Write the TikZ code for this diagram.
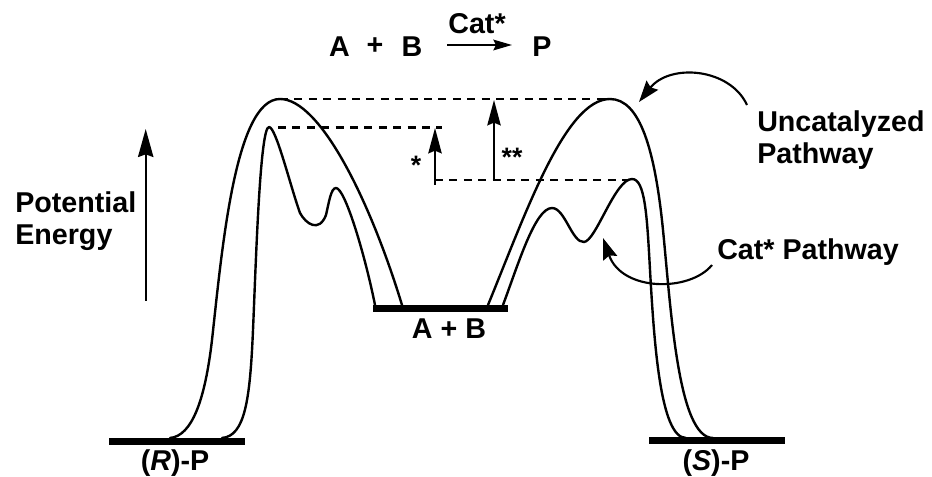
\documentclass[tikz,border=0pt]{standalone}
\usepackage{fontspec}
\setmainfont{Liberation Sans}
\usetikzlibrary{arrows.meta}
\begin{document}
\begin{tikzpicture}[x=0.75pt,y=-0.75pt,
  curve/.style={line width=1.8pt, line join=round, line cap=round},
  level/.style={line width=5.25pt},
  dashline/.style={line width=1.6pt, dash pattern=on 6pt off 4.8pt},
  big/.style={font=\fontsize{21.5}{24.5}\selectfont\bfseries, inner sep=0pt},
  star/.style={font=\fontsize{20}{22}\selectfont\bfseries, inner sep=0pt},
  uparrow/.style={line width=1.6pt, -{Stealth[length=19pt,width=10pt,inset=2pt]}},
  bendarrow/.style={line width=1.6pt, -{Stealth[length=16pt,width=11pt,inset=2pt]}}]
\useasboundingbox (0,0) rectangle (932,477);

% energy levels
\draw[level] (109,441.5) -- (245,441.5);
\draw[level] (373,308.5) -- (508,308.5);
\draw[level] (649,440.5) -- (785,440.5);

% uncatalyzed pathway
\draw[curve] (170,438) .. controls (192,436) and (205,400) .. (212,340)
  .. controls (222,250) and (235,99) .. (280,99)
  .. controls (320,99) and (370,200) .. (402,305);
\draw[curve] (488,305) .. controls (525,215) and (565,99) .. (610,99)
  .. controls (640,99) and (655,150) .. (663,230)
  .. controls (671,310) and (678,438) .. (713,438);

% catalyzed pathway
\draw[curve] (222,438) .. controls (245,436) and (250,400) .. (253,330)
  .. controls (256,260) and (260,127) .. (269,127)
  .. controls (276,127) and (290,185) .. (300,213)
  .. controls (306,224) and (319,233) .. (326,215)
  .. controls (329,202) and (331,188) .. (336,188)
  .. controls (345,188) and (365,255) .. (375,305);
\draw[curve] (503,305) .. controls (518,265) and (535,208) .. (552,208)
  .. controls (565,208) and (572,243) .. (584,242)
  .. controls (596,241) and (615,179) .. (632,179)
  .. controls (645,179) and (647,215) .. (650,270)
  .. controls (654,340) and (660,438) .. (686,438);

% dashed reference lines
\draw[dashline] (280,99) -- (610,99);
\draw[dashline] (278,127.5) -- (442,127.5);
\draw[dashline] (435,180) -- (627,180);

% barrier arrows
\coordinate (s1b) at (435,185);
\coordinate (s1t) at (435,128);
\coordinate (s2b) at (494,179);
\coordinate (s2t) at (494,100);
\draw[uparrow] (s1b) -- (s1t);
\draw[uparrow] (s2b) -- (s2t);
\node[star] (st1) at (416,165) {*};
\node[star] (st2) at (512,157) {**};

% potential energy axis
\coordinate (peb) at (145.7,301);
\coordinate (pet) at (145.7,129);
\draw[line width=1.6pt, -{Stealth[length=21pt,width=11.5pt,inset=2pt]}] (peb) -- (pet);
\node[big, align=left, anchor=west] (pe) at (15,221) {Potential\\Energy};

% level labels
\node[big] (rp) at (175,463) {(\textit{R})-P};
\node[big] (ab) at (449,329) {A + B};
\node[big] (sp) at (716,463) {(\textit{S})-P};

% equation
\node[big] (eqA) at (339.5,47) {A};
\node[big] (eqp) at (375,46) {+};
\node[big] (eqB) at (412,47) {B};
\node[big] (eqP) at (542,47) {P};
\node[big] (cat) at (477,24) {Cat*};
\coordinate (ra) at (447,45);
\coordinate (rb) at (512,45);
\draw[line width=1.5pt, -{Stealth[length=14pt,width=8pt,inset=2pt]}] (ra) -- (rb);

% pathway labels
\node[big, align=left, anchor=west] (unc) at (757,140) {Uncatalyzed\\Pathway};
\node[big, anchor=west] (catp) at (717,252) {Cat* Pathway};

% bent arrows
\coordinate (u1) at (747,105);
\coordinate (u2) at (639,102);
\draw[bendarrow] (u1) .. controls (730,68) and (670,63) .. (u2);
\coordinate (c1) at (712,265);
\coordinate (c2) at (603,238);
\draw[bendarrow] (c1) .. controls (690,292) and (622,292) .. (c2);
\end{tikzpicture}
\end{document}
